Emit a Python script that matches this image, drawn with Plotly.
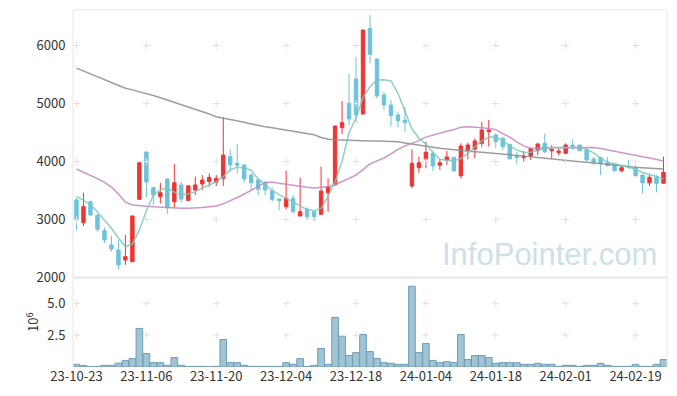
import plotly.graph_objects as go

dates = [
    "23-10-23", "23-10-24", "23-10-25", "23-10-26", "23-10-27", "23-10-30", "23-10-31",
    "23-11-01", "23-11-02", "23-11-03", "23-11-06", "23-11-07", "23-11-08", "23-11-09", "23-11-10",
    "23-11-13", "23-11-14", "23-11-15", "23-11-16", "23-11-17", "23-11-20", "23-11-21", "23-11-22",
    "23-11-23", "23-11-24", "23-11-27", "23-11-28", "23-11-29", "23-11-30",
    "23-12-01", "23-12-04", "23-12-05", "23-12-06", "23-12-07", "23-12-08", "23-12-11", "23-12-12",
    "23-12-13", "23-12-14", "23-12-15", "23-12-18", "23-12-19", "23-12-20", "23-12-21", "23-12-22",
    "23-12-26", "23-12-27", "23-12-28",
    "24-01-02", "24-01-03", "24-01-04", "24-01-05", "24-01-08", "24-01-09", "24-01-10", "24-01-11",
    "24-01-12", "24-01-15", "24-01-16", "24-01-17", "24-01-18", "24-01-19", "24-01-22", "24-01-23",
    "24-01-24", "24-01-25", "24-01-26", "24-01-29", "24-01-30", "24-01-31",
    "24-02-01", "24-02-02", "24-02-05", "24-02-06", "24-02-07", "24-02-08", "24-02-13", "24-02-14",
    "24-02-15", "24-02-16", "24-02-19", "24-02-20", "24-02-21", "24-02-22", "24-02-23",
]

open_ = [3336, 2945, 3307, 3072, 2807, 2560, 2474, 2302, 2272, 3348,
         4164, 3548, 3393, 3698, 3307, 3595, 3330, 3509, 3612, 3652,
         3641, 3710, 4083, 3969, 3940, 3767, 3681, 3634, 3491, 3353,
         3221, 3365, 3060, 3181, 3134, 3090, 3462, 3595, 4583, 5003,
         5422, 4819, 6296, 5767, 5146, 4974, 4802, 4715, 3578, 3893,
         4043, 4141, 3934, 4026, 4072, 3755, 4198, 4215, 4314, 4514,
         4457, 4400, 4296, 4095, 4066, 4095, 4186, 4314, 4186, 4152,
         4141, 4284, 4284, 4198, 4043, 4066, 3979, 3940, 3841, 3910,
         3893, 3767, 3634, 3727, 3624]
high = [3370, 3462, 3324, 3095, 2865, 2721, 2647, 2733, 3070, 3990,
        4170, 3565, 3634, 3700, 3957, 3652, 3590, 3738, 3767, 3796,
        3767, 4762, 4210, 4302, 3957, 3796, 3710, 3669, 3555, 3355,
        3841, 3422, 3721, 3221, 3150, 3910, 3710, 4615, 5043, 5508,
        5796, 6270, 6526, 5770, 5203, 5060, 4859, 4945, 4210, 4083,
        4341, 4169, 4038, 4181, 4080, 4314, 4324, 4400, 4686, 4715,
        4486, 4427, 4300, 4169, 4186, 4240, 4324, 4486, 4284, 4227,
        4314, 4383, 4290, 4215, 4083, 4083, 4072, 3969, 3922, 4026,
        3930, 3770, 3767, 3767, 4083]
low = [2819, 2888, 3060, 2790, 2590, 2445, 2141, 2216, 2265, 3340,
       3383, 3250, 3279, 3095, 3193, 3290, 3320, 3422, 3509, 3565,
       3578, 3578, 3824, 3796, 3634, 3509, 3422, 3422, 3307, 3164,
       3176, 3107, 3055, 2991, 2974, 3085, 3134, 3590, 4474, 4629,
       4669, 4815, 5693, 5089, 4888, 4600, 4589, 4514, 3538, 3807,
       3883, 3836, 3853, 3940, 3830, 3710, 4038, 4055, 4255, 4255,
       4227, 4198, 4040, 3952, 3996, 4026, 4112, 4141, 4055, 4112,
       4124, 4198, 4180, 4008, 3940, 3767, 3910, 3824, 3813, 3883,
       3738, 3452, 3578, 3469, 3620]
close = [2991, 3221, 3078, 2831, 2647, 2491, 2216, 2359, 3060, 3979,
         3646, 3422, 3462, 3203, 3634, 3353, 3580, 3595, 3681, 3727,
         3710, 4112, 3940, 3934, 3698, 3634, 3521, 3509, 3348, 3324,
         3365, 3134, 3134, 3048, 3048, 3491, 3565, 4612, 4669, 4733,
         4802, 6267, 5848, 5129, 4974, 4789, 4703, 4669, 3969, 3979,
         4158, 3922, 3979, 4077, 3836, 4267, 4284, 4353, 4543, 4543,
         4341, 4255, 4043, 4066, 4083, 4227, 4302, 4169, 4210, 4181,
         4284, 4267, 4186, 4026, 3986, 3979, 3927, 3841, 3893, 3893,
         3755, 3634, 3727, 3624, 3814]

ma5 = [3400, 3330, 3260, 3130, 2990, 2850, 2680, 2530, 2580, 2820,
       3150, 3420, 3510, 3545, 3470, 3430, 3440, 3480, 3540, 3595,
       3650, 3738, 3860, 3900, 3890, 3850, 3700, 3600, 3500, 3430,
       3365, 3290, 3221, 3170, 3150, 3190, 3400, 3650, 4000, 4500,
       4750, 5100, 5290, 5405, 5410, 5390, 5176, 4880, 4560, 4400,
       4300, 4160, 4040, 4020, 4015, 4050, 4141, 4250, 4350, 4420,
       4427, 4360, 4270, 4200, 4155, 4160, 4200, 4230, 4240, 4245,
       4245, 4245, 4240, 4210, 4150, 4060, 3990, 3960, 3920, 3890,
       3870, 3810, 3780, 3740, 3700]
ma20 = [3871, 3820, 3760, 3705, 3640, 3560, 3440, 3300, 3250, 3235,
        3228, 3221, 3212, 3203, 3198, 3194, 3193, 3195, 3205, 3218,
        3233, 3270, 3320, 3380, 3440, 3500, 3570, 3640, 3645, 3625,
        3612, 3595, 3575, 3555, 3545, 3555, 3565, 3600, 3650, 3710,
        3767, 3860, 3957, 4010, 4060, 4130, 4210, 4270, 4310, 4360,
        4420, 4457, 4490, 4520, 4550, 4590, 4600, 4595, 4580, 4570,
        4550, 4480, 4420, 4340, 4270, 4225, 4225, 4230, 4235, 4238,
        4240, 4243, 4245, 4245, 4242, 4225, 4200, 4170, 4145, 4120,
        4100, 4080, 4060, 4035, 4010]
ma120 = [5610, 5560, 5510, 5460, 5410, 5360, 5310, 5262, 5235, 5205,
         5176, 5138, 5098, 5060, 5020, 4983, 4945, 4905, 4865, 4820,
         4772, 4750, 4728, 4703, 4675, 4648, 4620, 4600, 4580, 4560,
         4543, 4525, 4505, 4485, 4460, 4415, 4385, 4375, 4368, 4362,
         4355, 4352, 4352, 4352, 4350, 4348, 4340, 4320, 4300, 4278,
         4255, 4242, 4228, 4214, 4200, 4186, 4177, 4168, 4159, 4150,
         4141, 4130, 4118, 4106, 4094, 4083, 4069, 4055, 4042, 4028,
         4014, 4005, 3996, 3987, 3978, 3969, 3955, 3940, 3925, 3910,
         3902, 3894, 3886, 3878, 3871]

volume = [210000, 110000, 20000, 50000, 130000, 130000, 300000, 500000, 660000, 3030000,
          1060000, 340000, 340000, 130000, 740000, 130000, 50000, 50000, 50000, 20000,
          50000, 2160000, 340000, 340000, 130000, 50000, 50000, 50000, 50000, 50000,
          340000, 210000, 660000, 50000, 130000, 1450000, 210000, 3900000, 2420000, 900000,
          1130000, 2550000, 1210000, 660000, 340000, 290000, 210000, 210000, 6340000, 1130000,
          1840000, 500000, 340000, 420000, 340000, 2550000, 580000, 900000, 900000, 740000,
          290000, 340000, 340000, 340000, 210000, 210000, 290000, 210000, 210000, 50000,
          130000, 130000, 50000, 130000, 130000, 290000, 130000, 50000, 50000, 50000,
          210000, 50000, 50000, 210000, 580000]

tick_idx = [0, 10, 20, 30, 40, 50, 60, 70, 80]
tick_dates = [dates[i] for i in tick_idx]
price_ticks = [2000, 3000, 4000, 5000, 6000]
vol_ticks = [2500000, 5000000]
vol_tick_text = ["2.5", "5.0"]

FONT = "Noto Sans CJK KR"
RED = "#ef3434"
BLUE = "#6cc3da"

fig = go.Figure()

fig.add_trace(go.Candlestick(
    x=dates, open=open_, high=high, low=low, close=close,
    xaxis="x2", yaxis="y",
    increasing=dict(line=dict(color=RED, width=1), fillcolor=RED),
    decreasing=dict(line=dict(color=BLUE, width=1), fillcolor=BLUE),
    whiskerwidth=0, showlegend=False, hoverinfo="skip",
))

for vals, col in [(ma120, "rgba(140,140,140,0.85)"),
                  (ma20, "rgba(200,130,195,0.85)"),
                  (ma5, "rgba(125,200,185,0.85)")]:
    fig.add_trace(go.Scatter(x=dates, y=vals, mode="lines", xaxis="x2", yaxis="y",
                             line=dict(color=col, width=1.5), showlegend=False,
                             hoverinfo="skip"))

fig.add_trace(go.Bar(
    x=dates, y=volume, xaxis="x", yaxis="y2",
    marker=dict(color="rgba(145,186,205,0.85)", line=dict(color="#6f9db4", width=1)),
    showlegend=False, hoverinfo="skip",
))

# grid cross marks at tick intersections
gx, gy = [], []
for d in tick_dates:
    for p in price_ticks[1:]:
        gx.append(d)
        gy.append(p)
fig.add_trace(go.Scatter(x=gx, y=gy, mode="markers", xaxis="x2", yaxis="y",
                         marker=dict(symbol="cross-thin", size=5,
                                     line=dict(color="#e2e2e2", width=1)),
                         showlegend=False, hoverinfo="skip"))
vx, vy = [], []
for d in tick_dates:
    for v in vol_ticks:
        vx.append(d)
        vy.append(v)
fig.add_trace(go.Scatter(x=vx, y=vy, mode="markers", xaxis="x", yaxis="y2",
                         marker=dict(symbol="cross-thin", size=5,
                                     line=dict(color="#e2e2e2", width=1)),
                         showlegend=False, hoverinfo="skip"))

split = 0.2507
tickfont = dict(family=FONT, size=13, color="#333333")

fig.update_layout(
    width=669, height=388,
    margin=dict(l=65, r=10, t=2, b=29),
    paper_bgcolor="white", plot_bgcolor="white",
    bargap=0.05,
    xaxis=dict(domain=[0, 1], anchor="y2", type="category",
               categoryorder="array", categoryarray=dates,
               range=[-0.5, len(dates) - 0.5],
               tickmode="array", tickvals=tick_dates, ticktext=tick_dates,
               showgrid=False, zeroline=False, showline=False,
               ticks="", tickfont=tickfont, rangeslider=dict(visible=False)),
    xaxis2=dict(domain=[0, 1], anchor="y", matches="x", type="category",
                showticklabels=False, showgrid=False, zeroline=False,
                ticks="", rangeslider=dict(visible=False)),
    yaxis=dict(domain=[split, 1], anchor="x2", range=[2000, 6612],
               tickmode="array", tickvals=price_ticks,
               showgrid=False, zeroline=False, ticks="outside", ticklen=4,
               tickcolor="rgba(0,0,0,0)", tickfont=tickfont),
    yaxis2=dict(domain=[0, split], anchor="x", range=[0, 7030000],
                tickmode="array", tickvals=vol_ticks, ticktext=vol_tick_text,
                showgrid=False, zeroline=False, ticks="outside", ticklen=4,
                tickcolor="rgba(0,0,0,0)", tickfont=tickfont),
    shapes=[
        dict(type="line", xref="paper", yref="paper", x0=0, x1=0, y0=0, y1=1,
             line=dict(color="#e6e6e6", width=1)),
        dict(type="line", xref="paper", yref="paper", x0=1, x1=1, y0=0, y1=1,
             line=dict(color="#e6e6e6", width=1)),
        dict(type="line", xref="paper", yref="paper", x0=0, x1=1, y0=1, y1=1,
             line=dict(color="#e6e6e6", width=1)),
        dict(type="line", xref="paper", yref="paper", x0=0, x1=1, y0=split, y1=split,
             line=dict(color="#e6e6e6", width=2)),
    ],
    annotations=[
        dict(text="InfoPointer.com", xref="paper", yref="paper", x=0.618, y=0.314,
             xanchor="left", yanchor="middle", showarrow=False,
             font=dict(family="Liberation Sans", size=31, color="#cddfe8")),
        dict(text="10<sup>6</sup>", xref="paper", yref="paper", x=-0.069, y=0.126,
             xanchor="center", yanchor="middle", showarrow=False, textangle=-90,
             font=dict(family=FONT, size=13, color="#333333")),
    ],
)

fig.write_html("out.html")
